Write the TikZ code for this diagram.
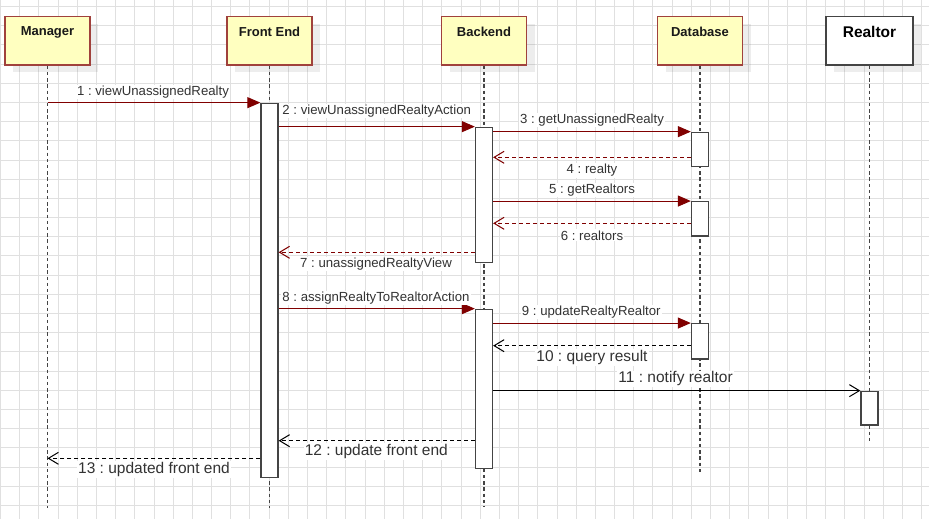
\documentclass[tikz,border=0pt]{standalone}
\usepackage{fontspec}
\setmainfont{Liberation Sans}
\frenchspacing
\usetikzlibrary{arrows.meta,shadows}
\definecolor{hdrfill}{HTML}{FFFFC0}
\definecolor{hdrline}{HTML}{A0413C}
\definecolor{msgred}{HTML}{800000}
\definecolor{gridgray}{HTML}{E0E0E0}
\definecolor{lifegray}{HTML}{444444}
\definecolor{textgray}{HTML}{333333}
\begin{document}
\begin{tikzpicture}[x=1pt,y=-1pt,
  gridline/.style={draw=gridgray, line width=1pt},
  hdr/.style={draw=hdrline, fill=hdrfill, line width=1.5pt, minimum width=85pt,
    minimum height=48.3pt, inner sep=0pt,
    drop shadow={shadow xshift=8pt, shadow yshift=-7pt, fill=black, opacity=0.07}},
  hdrplain/.style={hdr, draw=lifegray, fill=white},
  hdrtext/.style={font=\fontsize{13}{15}\selectfont\bfseries, text=black!90, inner sep=0pt},
  hdrbig/.style={font=\fontsize{15.5}{18}\selectfont\bfseries, text=black, inner sep=0pt},
  life/.style={draw=lifegray, line width=1.5pt, dash pattern=on 3.5pt off 2.7pt},
  act/.style={draw=lifegray, fill=white, line width=1.3pt, minimum width=17pt, inner sep=0pt},
  call/.style={draw=msgred, line width=1pt, -{Triangle[length=13pt,width=11pt]}},
  back/.style={draw=msgred, line width=1pt, dash pattern=on 4pt off 3pt,
    -{Straight Barb[length=10pt,width=12pt,line width=1pt]}},
  plaincall/.style={draw=black, line width=1pt, -{Straight Barb[length=10pt,width=12pt,line width=1pt]}},
  plainback/.style={plaincall, dash pattern=on 4pt off 3pt},
  lbl/.style={fill=white, inner sep=1pt, text=textgray, font=\fontsize{13.2}{15}\selectfont},
  lblbig/.style={lbl, font=\fontsize{15.5}{18}\selectfont}
]
\useasboundingbox (0,0) rectangle (929,519);
\fill[white] (0,0) rectangle (929,519);

% background grid, snapped to pixel centres
\foreach \i in {0,...,48} \draw[gridline] ({round(19.19*\i)+0.5},0) -- ({round(19.19*\i)+0.5},519);
\foreach \j in {0,...,27} \draw[gridline] (0,{round(7+19.19*\j)-0.5}) -- (929,{round(7+19.19*\j)-0.5});

% participant headers
\node[hdr] (hM) at (47.5,40.85) {};
\node[hdr] (hF) at (269.5,40.85) {};
\node[hdr] (hB) at (484,40.85) {};
\node[hdr] (hD) at (700,40.85) {};
\node[hdrplain, minimum width=87pt] (hR) at (869.5,40.85) {};
\node[hdrtext] (tM) at (hM.north |- 0,32) {Manager};
\node[hdrtext] (tF) at (hF.north |- 0,32) {Front End};
\node[hdrtext] (tB) at (hB.north |- 0,32) {Backend};
\node[hdrtext] (tD) at (hD.north |- 0,32) {Database};
\node[hdrbig] (tR) at (hR.north |- 0,32) {Realtor};

% lifelines
\coordinate (eM) at (hM.south |- 0,508);
\coordinate (eF) at (hF.south |- 0,508);
\coordinate (eB) at (hB.south |- 0,506);
\coordinate (eD) at (hD.south |- 0,472);
\coordinate (eR) at (hR.south |- 0,442);
\draw[life] (hM.south) -- (eM);
\draw[life] (hF.south) -- (eF);
\draw[life] (hB.south) -- (eB);
\draw[life] (hD.south) -- (eD);
\draw[life] (hR.south) -- (eR);

% activation bars
\node[act, minimum height=374.4pt] (aF) at (269.5,290.5) {};
\node[act, minimum height=135.4pt] (aB1) at (484,195) {};
\node[act, minimum height=159pt] (aB2) at (484,388.8) {};
\node[act, minimum height=34.4pt] (aD1) at (700,149.5) {};
\node[act, minimum height=34.3pt] (aD2) at (700,218.85) {};
\node[act, minimum height=35.3pt] (aD3) at (700,341.35) {};
\node[act, minimum height=33.7pt] (aR) at (869.5,408.15) {};

% messages
\draw[call] (hM.south |- aF.north) -- (aF.north west);
\draw[call] (aF.east |- aB1.north) -- (aB1.north west);
\draw[call] (aB1.east |- aD1.north) -- (aD1.north west);
\draw[back] (aD1.west |- 0,157.3) -- (aB1.east |- 0,157.3);
\draw[call] (aB1.east |- aD2.north) -- (aD2.north west);
\draw[back] (aD2.west |- 0,223.3) -- (aB1.east |- 0,223.3);
\draw[back] (aB1.west |- 0,252.3) -- (aF.east |- 0,252.3);
\draw[call] (aF.east |- aB2.north) -- (aB2.north west);
\draw[call] (aB2.east |- aD3.north) -- (aD3.north west);
\draw[plainback] (aD3.west |- 0,345.7) -- (aB2.east |- 0,345.7);
\draw[plaincall] (aB2.east |- aR.north) -- (aR.north west);
\draw[plainback] (aB2.west |- 0,440.7) -- (aF.east |- 0,440.7);
\draw[plainback] (aF.west |- 0,458.3) -- (hM.south |- 0,458.3);

% message labels
\node[lbl] (l1) at (153,91.7) {1 : viewUnassignedRealty};
\node[lbl] (l2) at (376.7,110.8) {2 : viewUnassignedRealtyAction};
\node[lbl] (l3) at (592,120) {3 : getUnassignedRealty};
\node[lbl] (l4) at (592,170.5) {4 : realty};
\node[lbl] (l5) at (592,189.8) {5 : getRealtors};
\node[lbl] (l6) at (592,235.3) {6 : realtors};
\node[lbl] (l7) at (376,263.8) {7 : unassignedRealtyView};
\node[lbl] (l8) at (376,297.8) {8 : assignRealtyToRealtorAction};
\node[lbl] (l9) at (591.3,311.7) {9 : updateRealtyRealtor};
\node[lblbig] (l10) at (592,357.7) {10 : query result};
\node[lblbig] (l11) at (675.6,378.8) {11 : notify realtor};
\node[lblbig] (l12) at (376.3,451.7) {12 : update front end};
\node[lblbig] (l13) at (154,469.7) {13 : updated front end};
\end{tikzpicture}
\end{document}
